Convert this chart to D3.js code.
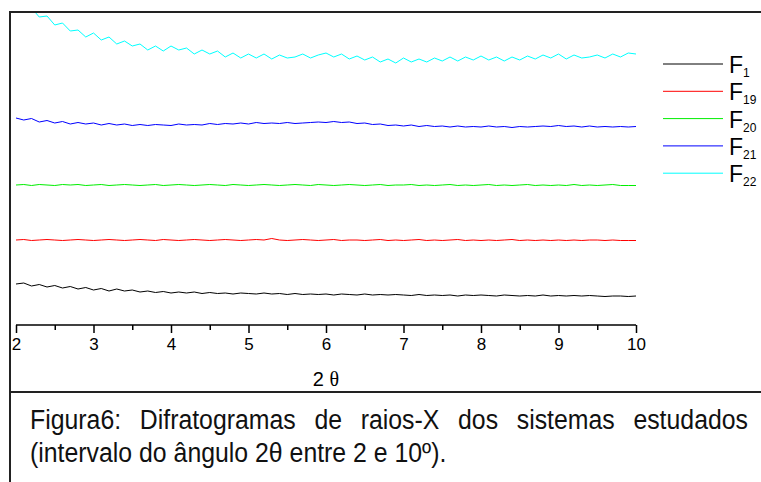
<!DOCTYPE html>
<html>
<head>
<meta charset="utf-8">
<script src="https://cdn.jsdelivr.net/npm/d3@7"></script>
<style>
  body { margin: 0; background: #fff; }
  svg { display: block; }
</style>
</head>
<body>
<div id="canvas"></div>
<script>
// 2 theta from 2 to 10, step 0.1
const twoTheta = d3.range(81).map(i => +(2 + i * 0.1).toFixed(1));

// intensities (arbitrary units, curves offset as in the figure)
const f1 = [
  41, 42, 39, 40.5, 38, 39.5, 37, 38.5, 36, 37.5,
  35, 36.5, 34, 36, 34, 35, 33, 34, 32.5, 33.5,
  32, 33, 32, 33, 31.5, 32.5, 31.5, 32, 31, 32,
  31.5, 31, 32, 31, 31.5, 30.5, 31.5, 30.5, 31, 30.5,
  31, 30, 31, 30.5, 30, 31, 30, 30.5, 30, 30.5,
  30, 29.5, 30.5, 29.5, 30, 29.5, 30, 29, 30, 29.5,
  30, 29.5, 29, 30, 29.5, 29, 29.5, 29, 30, 29,
  29.5, 29, 29.5, 29, 29.5, 29, 28.5, 29, 29, 28.5,
  29
];

const f19 = [
  85, 85.5, 84.5, 85, 85.5, 85, 84.5, 85, 85.5, 85,
  84.5, 85, 85.5, 85, 84.5, 85, 85.5, 85, 84.5, 85.5,
  85, 84.5, 85, 85.5, 85, 84.5, 85, 85.5, 85, 84.5,
  85, 85.5, 85, 86.5, 85, 84.5, 85, 85.5, 85, 84.5,
  85, 85.5, 84.5, 85, 85, 84.5, 85, 85.5, 84.5, 85,
  84.5, 85, 85.5, 84.5, 85, 84.5, 85, 85.5, 84.5, 85,
  84.5, 85, 84.5, 85, 85.5, 84.5, 85, 84.5, 85, 84.5,
  85, 84.5, 85, 84.5, 85, 85, 84.5, 85, 84.5, 84.5,
  84.5
];

const f20 = [
  140, 140.5, 139.5, 140.5, 140, 139.5, 140.5, 140, 140.5, 139.5,
  140, 140.5, 139.5, 140, 140.5, 140, 139.5, 140, 140.5, 139.5,
  140, 140.5, 140, 139.5, 140, 140.5, 140, 139.5, 140.5, 140,
  139.5, 140, 140.5, 140, 139.5, 140, 140.5, 140, 139.5, 140.5,
  140, 139.5, 140, 140.5, 140, 139.5, 140, 140.5, 139.5, 140,
  140, 140.5, 139.5, 140, 139.5, 140, 140.5, 139.5, 140, 139.5,
  140, 140.5, 139.5, 140, 139.5, 140, 140.5, 139.5, 140, 139.5,
  140, 139.5, 140.5, 139.5, 140, 139.5, 140, 140.5, 139.5, 139.5,
  139.5
];

const f21 = [
  207, 205, 206.5, 203, 204.5, 202, 203.5, 201, 202.5, 201,
  202, 200, 201.5, 200, 201, 199.5, 200.5, 199.5, 200.5, 200,
  199.5, 201, 200, 200.5, 200, 201.5, 200.5, 201.5, 201, 202,
  201, 202.5, 201.5, 202, 201.5, 202.5, 201.5, 202, 202.5, 203,
  202.5, 203.5, 202.5, 203, 201.5, 202, 200.5, 201, 199.5, 200,
  199, 200, 198.5, 199.5, 198.5, 199, 198, 199, 198, 198.5,
  198, 199, 198, 198.5, 197.5, 198.5, 198, 198.5, 199, 198.5,
  199.5, 198.5, 199, 198, 199, 198, 198.5, 198, 198.5, 198,
  198.5
];

const f22 = [
  327, 320, 317, 308, 309, 300, 302, 294, 295, 288,
  292, 285, 288, 281, 284, 279, 281, 275, 279, 274,
  279, 275, 277, 271, 275, 271, 274, 268, 272, 267,
  271, 267, 271, 266, 270, 267, 268, 271, 267, 270,
  272, 268, 271, 266, 269, 265, 268, 263, 266, 262,
  267, 263, 266, 263, 267, 264, 268, 264, 268, 265,
  269, 265, 268, 264, 268, 265, 269, 266, 270, 267,
  271, 266, 270, 267, 268, 270, 267, 271, 268, 272,
  271
];

const seriesNames = ["F1", "F19", "F20", "F21", "F22"];
const seriesValues = [f1, f19, f20, f21, f22];
const seriesColors = ["#000000", "#ff0000", "#00ee00", "#0000ff", "#00ffff"];

const captionLines = [
  "Figura6: Difratogramas de raios-X dos sistemas estudados",
  "(intervalo do ângulo 2θ entre 2 e 10º)."
];

const W = 761, H = 482;

const svg = d3.select("#canvas")
  .append("svg")
  .attr("width", W)
  .attr("height", H);

const x = d3.scaleLinear().domain([2, 10]).range([16, 636]);
const y = d3.scaleLinear().domain([0, 313]).range([325, 12]);

// frame
svg.append("line").attr("x1", 9).attr("x2", W).attr("y1", 12).attr("y2", 12)
  .attr("stroke", "#222").attr("stroke-width", 2);
svg.append("line").attr("x1", 10).attr("x2", 10).attr("y1", 12).attr("y2", H)
  .attr("stroke", "#222").attr("stroke-width", 2);
svg.append("line").attr("x1", 10).attr("x2", W).attr("y1", 392).attr("y2", 392)
  .attr("stroke", "#222").attr("stroke-width", 2);

svg.append("clipPath").attr("id", "plot")
  .append("rect").attr("x", 12).attr("y", 13).attr("width", 632).attr("height", 312);

// series
const line = d3.line()
  .x((d, i) => x(twoTheta[i]))
  .y(d => y(d));

seriesValues.forEach((vals, k) => {
  svg.append("path")
    .datum(vals)
    .attr("clip-path", "url(#plot)")
    .attr("fill", "none")
    .attr("stroke", seriesColors[k])
    .attr("stroke-width", 1)
    .attr("d", line);
});

// x axis, ticks pointing down
const axis = svg.append("g")
  .attr("transform", "translate(0,325)")
  .call(d3.axisBottom(x)
    .tickValues(d3.range(2, 10.01, 0.5))
    .tickSize(8)
    .tickFormat(d => Number.isInteger(d) ? d : ""));
axis.select(".domain").attr("stroke", "#000").attr("stroke-width", 1.5)
  .attr("d", `M${x(2)},0H${x(10)}`);
axis.selectAll(".tick line")
  .attr("stroke", "#000").attr("stroke-width", 1.5)
  .attr("y2", d => Number.isInteger(d) ? 8 : 5);
axis.selectAll(".tick text")
  .attr("y", 13)
  .attr("font-family", "Liberation Sans, Arial, sans-serif")
  .attr("font-size", 17)
  .attr("fill", "#000");

// axis title
const title = svg.append("text")
  .attr("x", x(6))
  .attr("y", 386)
  .attr("text-anchor", "middle")
  .attr("font-family", "Liberation Sans, Arial, sans-serif")
  .attr("font-size", 20)
  .attr("fill", "#000");
title.append("tspan").text("2 ");
title.append("tspan").attr("font-family", "Liberation Serif, Times New Roman, serif").text("θ");

// legend
const legend = svg.append("g");
seriesNames.forEach((name, k) => {
  const ly = 64 + k * 27.3;
  legend.append("line")
    .attr("x1", 663).attr("x2", 723)
    .attr("y1", ly).attr("y2", ly)
    .attr("stroke", seriesColors[k]).attr("stroke-width", 1);
  const t = legend.append("text")
    .attr("x", 729).attr("y", ly + 9)
    .attr("font-family", "Liberation Sans, Arial, sans-serif")
    .attr("font-size", 23)
    .attr("fill", "#000");
  t.append("tspan").text(name[0]);
  t.append("tspan").attr("font-size", 12).attr("dy", 4).text(name.slice(1));
});

// caption (narrow face imitated by squeezing the regular one)
const squeeze = 0.92;
captionLines.forEach((txt, i) => {
  const t = svg.append("text")
    .attr("transform", `translate(30,${429 + i * 33}) scale(${squeeze},1)`)
    .attr("font-family", "Liberation Sans, Arial, sans-serif")
    .attr("font-size", 27)
    .attr("fill", "#111")
    .text(txt);
  if (i === 0) {
    // justified first line: spread the gaps between words
    const natural = t.node().getComputedTextLength();
    const gaps = txt.split(" ").length - 1;
    t.attr("word-spacing", (718 / squeeze - natural) / gaps);
  }
});
</script>
</body>
</html>
